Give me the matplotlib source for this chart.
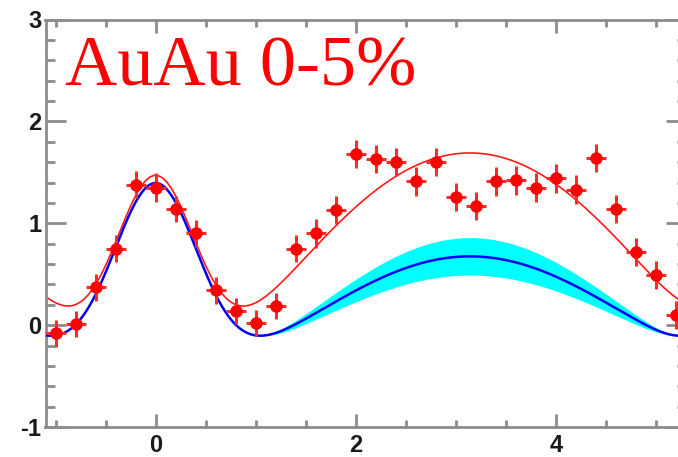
import numpy as np
import matplotlib
matplotlib.use("Agg")
import matplotlib.pyplot as plt
from matplotlib.ticker import MultipleLocator

plt.rcParams["axes.unicode_minus"] = False

# Delta-phi bin centres (rad) and per-trigger yields
dphi = [-1.0, -0.8, -0.6, -0.4, -0.2, 0.0, 0.2, 0.4, 0.6, 0.8, 1.0, 1.2,
        1.4, 1.6, 1.8, 2.0, 2.2, 2.4, 2.6, 2.8, 3.0, 3.2, 3.4, 3.6,
        3.8, 4.0, 4.2, 4.4, 4.6, 4.8, 5.0, 5.2]
yields = [-0.08, 0.01, 0.37, 0.75, 1.38, 1.35, 1.14, 0.90, 0.34, 0.14, 0.02, 0.19,
          0.75, 0.90, 1.13, 1.68, 1.63, 1.60, 1.41, 1.60, 1.26, 1.17, 1.41, 1.42,
          1.35, 1.44, 1.33, 1.64, 1.14, 0.72, 0.49, 0.10]
yerr = [0.13, 0.13, 0.13, 0.13, 0.13, 0.14, 0.13, 0.13, 0.13, 0.13, 0.13, 0.13,
        0.13, 0.14, 0.14, 0.14, 0.14, 0.14, 0.14, 0.14, 0.14, 0.14, 0.14, 0.14,
        0.14, 0.14, 0.14, 0.14, 0.14, 0.14, 0.14, 0.14]
xerr = [0.1] * len(dphi)

# Fit to the data: harmonic background + periodic near-side Gaussian
fit_bkg = [0.69, 1.05, -0.05]       # c0, c1 (cos dphi), c2 (cos 2dphi)
fit_near = [1.88, 0.395]            # amplitude, width

# Reference expectation: cosine away side + near-side Gaussian, with band
ref_bkg = [0.10, 0.575]             # c0, c1 (cos dphi)
ref_near = [1.87, 0.42]
ref_band = 0.22                     # relative away-side uncertainty
ref_pinch = 1.1                     # dphi where the band closes


def near_peak(x, amp, sigma):
    return amp * sum(np.exp(-(x - 2 * np.pi * k) ** 2 / (2 * sigma ** 2))
                     for k in (-1, 0, 1))


def fit_curve(x):
    c0, c1, c2 = fit_bkg
    return c0 - c1 * np.cos(x) + c2 * np.cos(2 * x) + near_peak(x, *fit_near)


def ref_curve(x, scale=1.0):
    c0, c1 = ref_bkg
    away = c1 * (np.cos(ref_pinch) - np.cos(x))
    base = c0 - c1 * np.cos(ref_pinch)
    return base + scale * away + near_peak(x, *ref_near)


fig = plt.figure(figsize=(6.78, 4.57), dpi=100)
ax = fig.add_axes([45.5 / 678, 30 / 457, 640.5 / 678, 407.5 / 457])

xmin, xmax = -1.1, 5.3
xs = np.linspace(xmin, xmax, 800)
xb = xs[xs >= ref_pinch]
ax.fill_between(xb, ref_curve(xb, 1 - ref_band), ref_curve(xb, 1 + ref_band),
                color="#00ffff", lw=0, zorder=1)
ax.plot(xs, fit_curve(xs), color="#ff1a1a", lw=1.2, zorder=2)
ax.plot(xs, ref_curve(xs), color="#0000f0", lw=1.8, zorder=3)

ax.errorbar(dphi, yields, yerr=yerr, xerr=xerr, fmt="o", color="red",
            ecolor="#ff2a2a", elinewidth=2.2, capsize=0, ms=8, mec="red",
            zorder=4)

ax.set_xlim(xmin, xmax)
ax.set_ylim(-1, 3)

ax.xaxis.set_major_locator(MultipleLocator(2))
ax.xaxis.set_minor_locator(MultipleLocator(0.5))
ax.yaxis.set_major_locator(MultipleLocator(1))
ax.yaxis.set_minor_locator(MultipleLocator(0.2))

axis_col = "#8c8c8c"
for s in ax.spines.values():
    s.set_color(axis_col)
    s.set_linewidth(2.0)

ax.tick_params(which="both", direction="in", top=True, right=True,
               color=axis_col, width=2.0, labelcolor="#1a1a1a")
ax.tick_params(axis="y", which="major", length=14.4, pad=3)
ax.tick_params(axis="y", which="minor", length=6.5)
ax.tick_params(axis="x", which="major", length=9.5, pad=5)
ax.tick_params(axis="x", which="minor", length=5)

for lab in ax.get_xticklabels() + ax.get_yticklabels():
    lab.set_fontfamily("Liberation Sans")
    lab.set_fontweight("bold")
    lab.set_fontsize(17)

fig.text(65 / 678, 1 - 85 / 457, "AuAu 0-5%", color="red", fontsize=52,
         family="Liberation Serif", ha="left", va="baseline")

fig.savefig("out.png", dpi=100)
